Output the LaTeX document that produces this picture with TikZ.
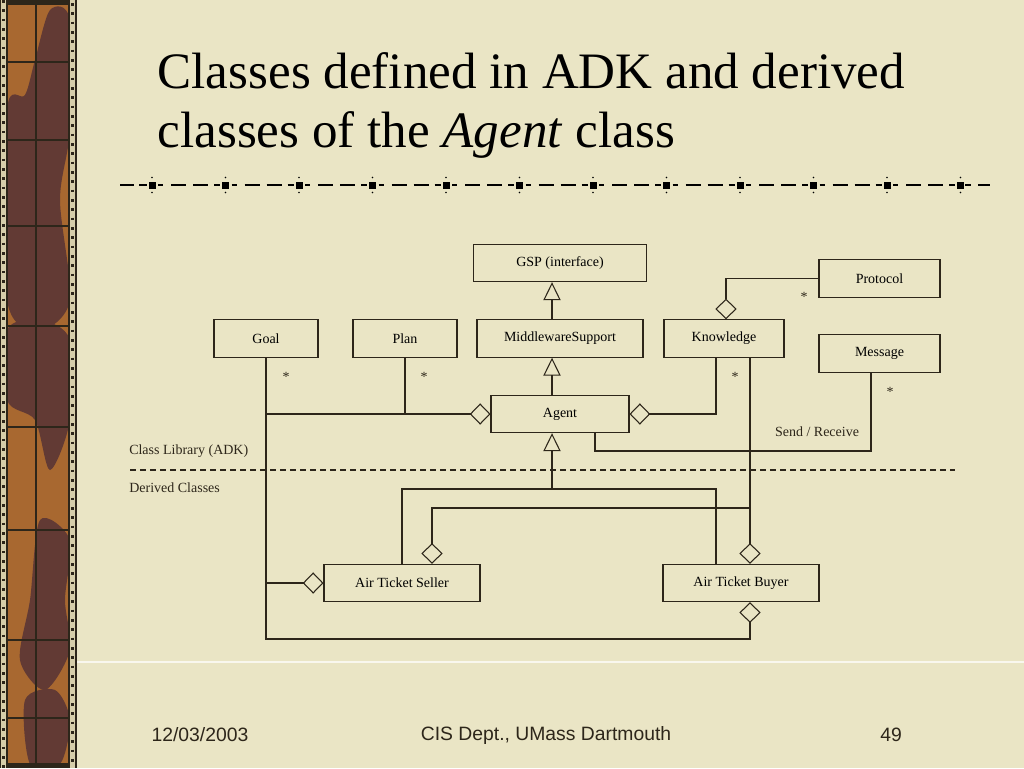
\documentclass[tikz,border=0pt]{standalone}
\usepackage{fontspec}
\setmainfont{Liberation Serif}
\newfontfamily\footfont{Liberation Sans}
\usetikzlibrary{arrows.meta}
\definecolor{paper}{RGB}{234,229,197}
\definecolor{ink}{RGB}{45,38,26}
\definecolor{bark}{RGB}{168,104,48}
\definecolor{barkdark}{RGB}{98,58,52}
\definecolor{rim}{RGB}{214,206,170}

\begin{document}
\begin{tikzpicture}[x=0.75pt, y=-0.75pt,
    cls/.style={draw=ink, line width=0.8pt, minimum height=28pt, inner sep=0pt,
        font=\fontsize{10.5}{12}\selectfont},
    lnk/.style={draw=ink, line width=0.8pt},
    isa/.style={lnk, -{Triangle[open, length=13.5pt, width=13pt]}},
    has/.style={lnk, -{Diamond[open, length=15.5pt, width=16pt]}},
    mult/.style={font=\fontsize{10.5}{12}\selectfont, inner sep=0pt, text=ink},
    foot/.style={font=\footfont\fontsize{14.5}{16}\selectfont, text=ink}]
    \useasboundingbox (0,0) rectangle (1024,768);
    \fill[paper] (0,0) rectangle (1024,768);

    % left strip
    \fill[ink] (0,0) rectangle (77,768);
    \fill[rim] (1,0) rectangle (6,768);
    \fill[rim] (70,0) rectangle (75,768);
    \draw[ink, line width=2pt, dash pattern=on 2pt off 5pt] (3.5,0) -- (3.5,768);
    \draw[ink, line width=2pt, dash pattern=on 2pt off 5pt] (72.5,3) -- (72.5,768);
    \fill[bark] (7,4) rectangle (69,764);
    \begin{scope}
        \clip (7,4) rectangle (69,764);
        \fill[barkdark] plot[smooth cycle] coordinates {(50,10) (70,20) (70,130) (60,200) (70,300) (40,330) (7,300) (7,110) (25,95) (35,60)};
        \fill[barkdark] plot[smooth cycle] coordinates {(7,330) (40,320) (70,340) (70,420) (50,470) (35,420) (7,400)};
        \fill[barkdark] plot[smooth cycle] coordinates {(40,520) (70,540) (65,600) (70,650) (45,690) (20,660) (30,600)};
        \fill[barkdark] plot[smooth cycle] coordinates {(25,700) (55,690) (70,720) (60,764) (30,764)};
    \end{scope}
    \draw[ink, line width=0.8pt] (7,4) rectangle (69,764) (36,4) -- (36,764);
    \foreach \ly in {62,140,226,326,427,530,640,718}
        \draw[ink, line width=0.8pt] (7,\ly) -- (69,\ly);
    \draw[white!70!paper, line width=0.8pt] (77,662) -- (1024,662);

    % title
    \node[anchor=base west, font=\fontsize{38.3}{44}\selectfont] (title1) at (153,88) {Classes defined in ADK and derived};
    \node[anchor=base west, font=\fontsize{38.3}{44}\selectfont] (title2) at (153,147) {classes of the \textit{Agent} class};

    % rule under the title
    \draw[black, line width=1.5pt] (120,185) -- (134,185) (139,185) -- (147,185)
        (965,185) -- (971,185) (978,185) -- (990,185);
    \foreach \k in {0,...,11} {
        \pgfmathsetmacro\sx{152+73.5*\k}
        \fill[black] (\sx-3.5,181.5) rectangle (\sx+3.5,188.5);
        \fill[black] (\sx,177.5) circle (0.8) (\sx,192.5) circle (0.8);
    }
    \foreach \k in {0,...,10} {
        \pgfmathsetmacro\sx{152+73.5*\k}
        \draw[black, line width=1.5pt] (\sx+6,185) -- (\sx+11,185) (\sx+19,185) -- (\sx+34,185)
            (\sx+41,185) -- (\sx+56,185) (\sx+62,185) -- (\sx+68,185);
    }

    % classes
    \node[cls, minimum width=129.75pt] (gsp) at (560,263) {GSP (interface)};
    \node[cls, minimum width=90.75pt] (protocol) at (879.5,278.5) {Protocol};
    \node[cls, minimum width=78pt] (goal) at (266,338.5) {Goal};
    \node[cls, minimum width=78pt] (plan) at (405,338.5) {Plan};
    \node[cls, minimum width=124.5pt] (mws) at (560,338.5) {MiddlewareSupport};
    \node[cls, minimum width=90pt] (knowledge) at (724,338.5) {Knowledge};
    \node[cls, minimum width=90.75pt] (message) at (879.5,353.5) {Message};
    \node[cls, minimum width=103.5pt] (agent) at (560,414) {Agent};
    \node[cls, minimum width=117pt] (seller) at (402,583) {Air Ticket Seller};
    \node[cls, minimum width=117pt] (buyer) at (741,583) {Air Ticket Buyer};

    \coordinate (trunk) at (552,0);
    \coordinate (bus) at (552,489);
    \coordinate (buyx) at (716,0);
    \coordinate (kx) at (716,0);
    \coordinate (kdown) at (750,0);
    \coordinate (kbus) at (750,508);
    \coordinate (sellhook) at (432,0);
    \coordinate (px) at (726,0);
    \coordinate (mx) at (871,0);
    \coordinate (sendrecv) at (595,451);
    \coordinate (floor) at (0,639);

    \draw[isa] (trunk |- mws.north) -- (trunk |- gsp.south);
    \draw[isa] (trunk |- agent.north) -- (trunk |- mws.south);
    \draw[isa] (bus) -- (trunk |- agent.south);
    \draw[lnk] (seller.north) |- (bus) -| (buyx |- buyer.north);

    \draw[has] (goal.south) |- (agent.west);
    \draw[lnk] (plan.south) -- (plan.south |- agent.west);
    \draw[has] (goal.south |- agent.west) |- (seller.west);
    \draw[has] (goal.south |- seller.west) |- (kdown |- floor) -- (kdown |- buyer.south);
    \draw[has] (kx |- knowledge.south) |- (agent.east);
    \draw[has] (kdown |- knowledge.south) -- (kdown |- buyer.north);
    \draw[has] (kbus) -| (sellhook |- seller.north);
    \draw[has] (protocol.west) -| (px |- knowledge.north);
    \draw[lnk] (mx |- message.south) |- (sendrecv) -- (sendrecv |- agent.south);

    \node[mult] (goalstar) at (286,377) {*};
    \node[mult] (planstar) at (424,377) {*};
    \node[mult] (knowstar) at (735,377) {*};
    \node[mult] (protostar) at (804,297) {*};
    \node[mult] (msgstar) at (890,392) {*};
    \node[mult] (sendlbl) at (817,432) {Send / Receive};

    % package border
    \draw[lnk, dash pattern=on 4.5pt off 3pt] (130,470) -- (955,470);
    \node[mult, anchor=west] (adk) at (129,451) {Class Library (ADK)};
    \node[mult, anchor=west] (derived) at (129,488) {Derived Classes};

    % footer
    \node[foot] (date) at (200,735) {12/03/2003};
    \node[foot] (dept) at (546,735) {CIS Dept., UMass Dartmouth};
    \node[foot] (page) at (891,735) {49};
\end{tikzpicture}
\end{document}
